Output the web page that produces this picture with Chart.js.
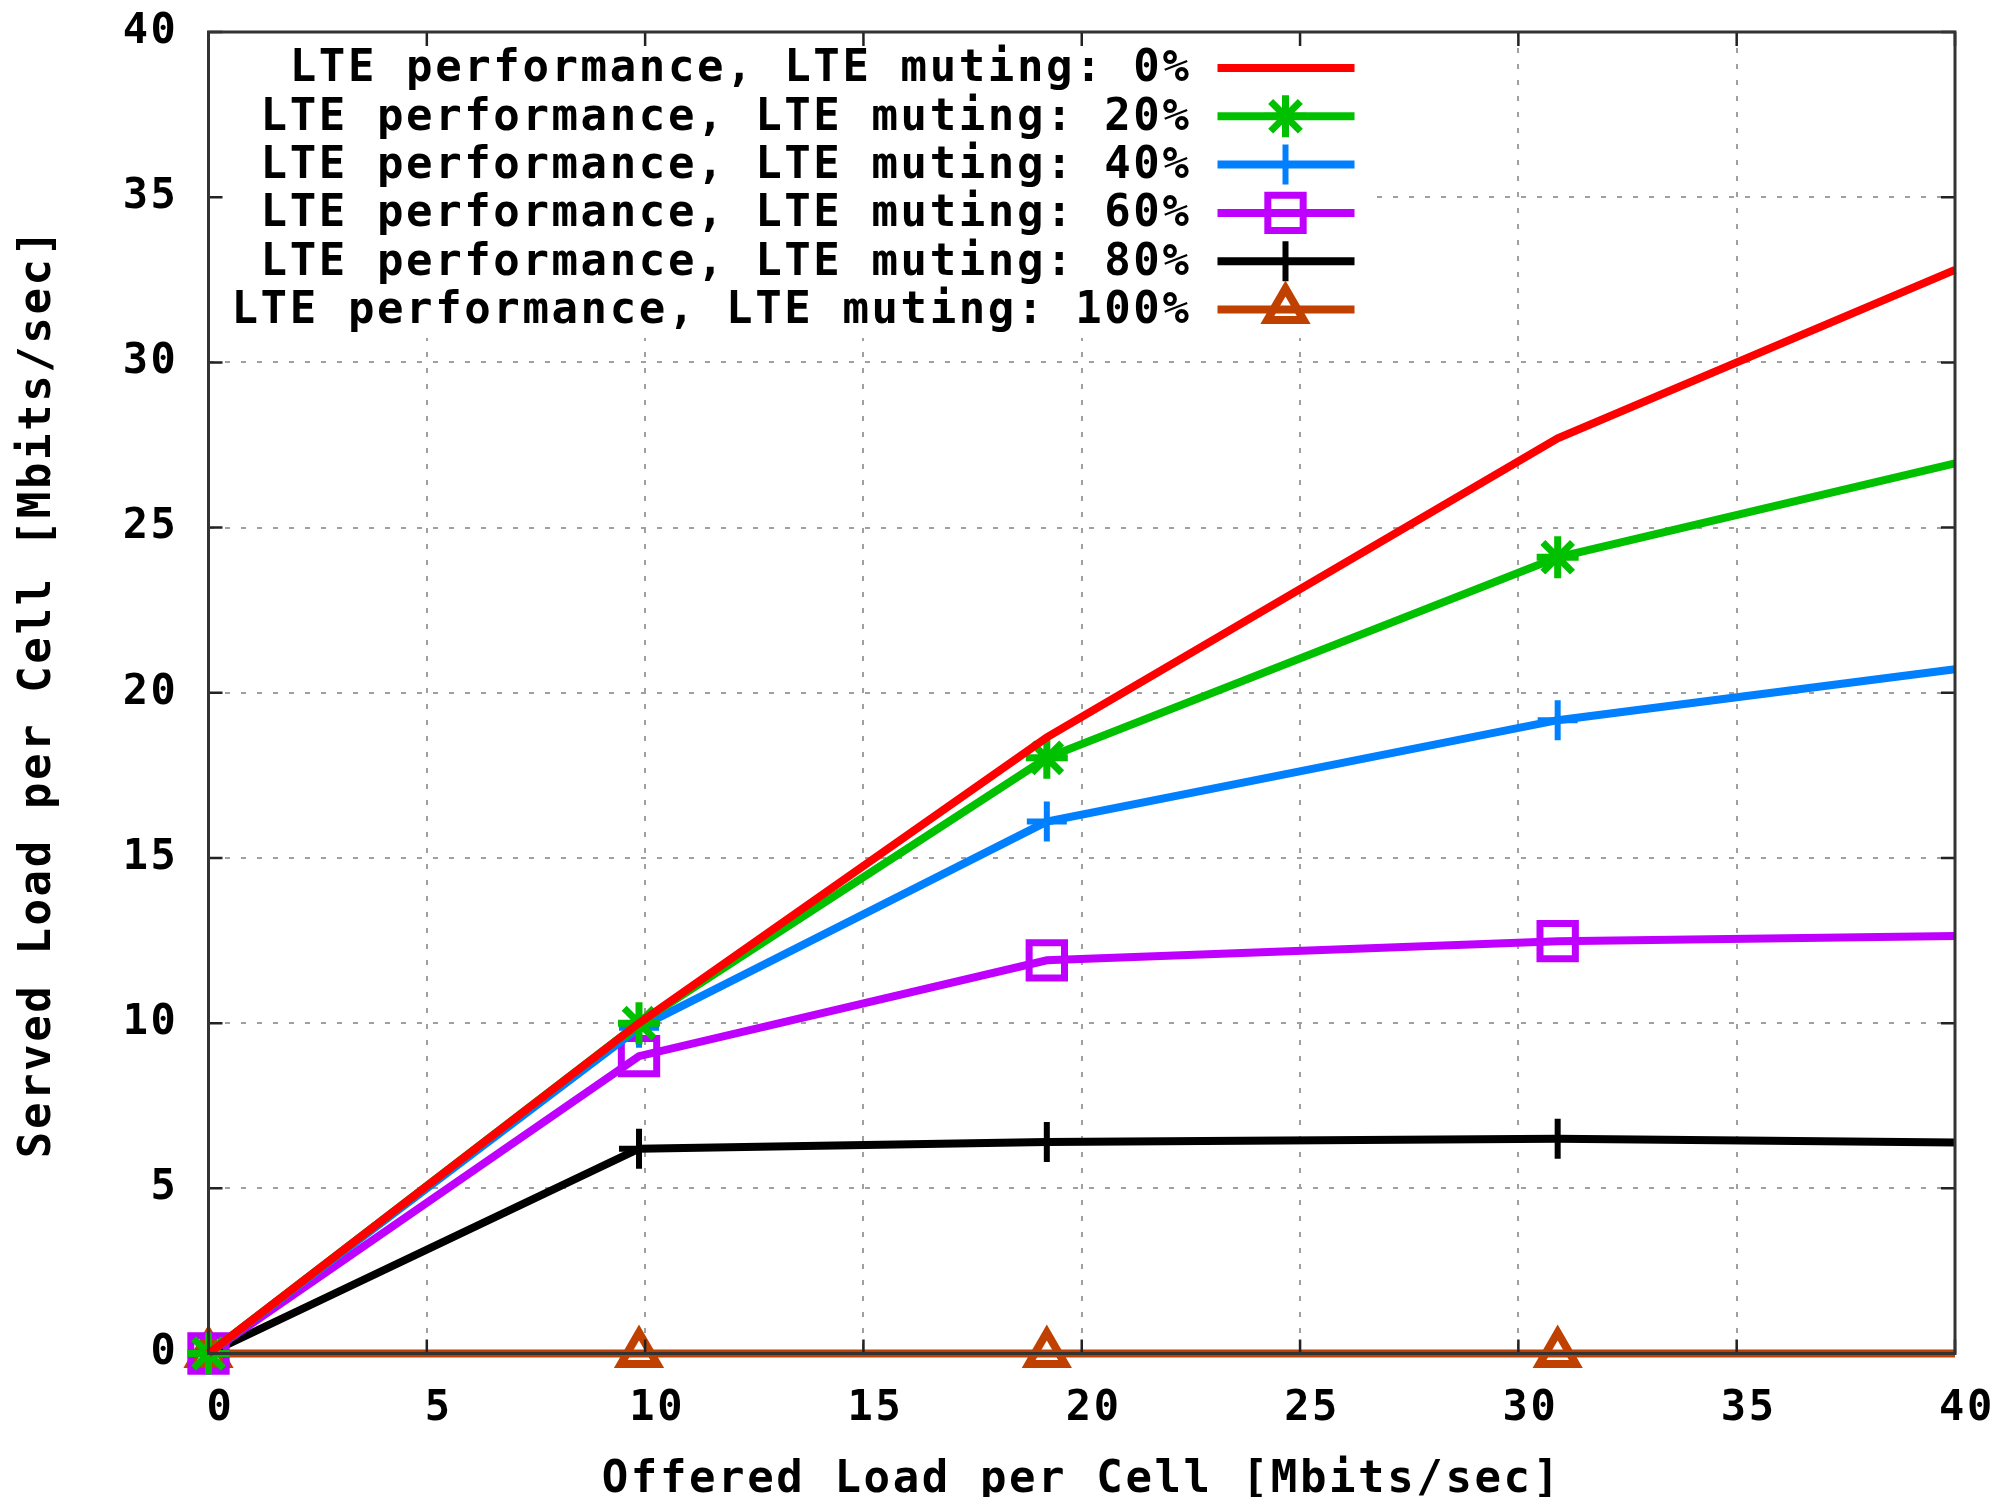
<!DOCTYPE html>
<html>
<head>
<meta charset="utf-8">
<script src="https://cdn.jsdelivr.net/npm/chart.js@4/dist/chart.umd.min.js"></script>
<style>
html,body{margin:0;padding:0;background:#fff;}
#wrap{width:2006px;height:1497px;position:relative;}
</style>
</head>
<body>
<div id="wrap"><canvas id="c" width="2006" height="1497"></canvas></div>
<script>
// ---- data ----
const offeredLoad = [0, 9.86, 19.2, 30.9, 40];
const seriesLabels = [
  'LTE performance, LTE muting: 0%',
  'LTE performance, LTE muting: 20%',
  'LTE performance, LTE muting: 40%',
  'LTE performance, LTE muting: 60%',
  'LTE performance, LTE muting: 80%',
  'LTE performance, LTE muting: 100%'
];
const muting0   = [0, 10.0, 18.65, 27.7, 32.8];
const muting20  = [0, 10.0, 18.03, 24.1, 26.94];
const muting40  = [0, 9.86, 16.1, 19.17, 20.71];
const muting60  = [0, 9.0, 11.9, 12.48, 12.64];
const muting80  = [0, 6.2, 6.4, 6.5, 6.39];
const muting100 = [0, 0, 0, 0, 0];
const xTickValues = [0, 5, 10, 15, 20, 25, 30, 35, 40];
const yTickValues = [0, 5, 10, 15, 20, 25, 30, 35, 40];
const xTitle = 'Offered Load per Cell [Mbits/sec]';
const yTitle = 'Served Load per Cell [Mbits/sec]';

const FONT = "'DejaVu Sans Mono', monospace";
const SPACING = '2.6px';
const seriesValues = [muting0, muting20, muting40, muting60, muting80, muting100];
const seriesColors = ['#ff0000', '#00c000', '#0080ff', '#c000ff', '#000000', '#c04000'];
const seriesStyles = [false, 'star', 'cross', 'rect', 'cross', 'triangle'];
const seriesRadius = [0, 21, 20, 25, 20, 21];
const seriesPointWidth = [0, 7, 6, 7, 6, 8];

const datasets = seriesValues.map((vals, k) => ({
  label: seriesLabels[k],
  data: offeredLoad.map((x, i) => ({x: x, y: vals[i]})),
  borderColor: seriesColors[k],
  backgroundColor: seriesColors[k],
  borderWidth: 8,
  tension: 0,
  clip: false,
  pointStyle: seriesStyles[k] || 'circle',
  pointRadius: offeredLoad.map((x, i) => (i === offeredLoad.length - 1 ? 0 : seriesRadius[k])),
  pointHoverRadius: 0,
  pointBorderColor: seriesColors[k],
  pointBackgroundColor: 'rgba(0,0,0,0)',
  pointBorderWidth: seriesPointWidth[k]
}));

const gnuplotFrame = {
  id: 'gnuplotFrame',
  beforeDraw(chart) {
    chart.ctx.letterSpacing = SPACING;
  },
  beforeDatasetsDraw(chart) {
    const {ctx, chartArea: a} = chart;
    ctx.save();
    ctx.fillStyle = '#ffffff';
    ctx.fillRect(a.left + 2, a.top + 2, 1157, 304);
    ctx.restore();
  },
  afterDatasetsDraw(chart) {
    const {ctx, chartArea: a, scales} = chart;
    ctx.save();
    ctx.strokeStyle = '#222';
    ctx.lineWidth = 2.5;
    const tl = 14;
    ctx.beginPath();
    xTickValues.forEach(v => {
      const px = scales.x.getPixelForValue(v);
      ctx.moveTo(px, a.bottom); ctx.lineTo(px, a.bottom - tl);
      ctx.moveTo(px, a.top); ctx.lineTo(px, a.top + tl);
    });
    yTickValues.forEach(v => {
      const py = scales.y.getPixelForValue(v);
      ctx.moveTo(a.left, py); ctx.lineTo(a.left + tl, py);
      ctx.moveTo(a.right, py); ctx.lineTo(a.right - tl, py);
    });
    ctx.stroke();
    ctx.lineWidth = 3;
    ctx.strokeStyle = '#333';
    ctx.strokeRect(a.left, a.top, a.right - a.left, a.bottom - a.top);

    // legend (key)
    ctx.letterSpacing = SPACING;
    ctx.font = 'bold 44px ' + FONT;
    ctx.textAlign = 'right';
    ctx.textBaseline = 'middle';
    chart.data.datasets.forEach((ds, k) => {
      const y = a.top + 36 + k * 48.3;
      ctx.fillStyle = '#000';
      ctx.fillText(ds.label, a.left + 983, y + 2);
      ctx.strokeStyle = ds.borderColor;
      ctx.lineWidth = 8;
      ctx.beginPath();
      ctx.moveTo(a.left + 1009, y);
      ctx.lineTo(a.left + 1146, y);
      ctx.stroke();
      if (seriesStyles[k]) {
        ctx.fillStyle = 'rgba(0,0,0,0)';
        ctx.strokeStyle = ds.borderColor;
        ctx.lineWidth = seriesPointWidth[k];
        Chart.helpers.drawPoint(ctx, {pointStyle: seriesStyles[k], radius: seriesRadius[k], borderWidth: seriesPointWidth[k], rotation: 0}, a.left + 1077, y);
      }
    });
    ctx.restore();
  }
};

new Chart(document.getElementById('c'), {
  type: 'line',
  data: {datasets: datasets},
  plugins: [gnuplotFrame],
  options: {
    responsive: false,
    animation: false,
    devicePixelRatio: 1,
    events: [],
    layout: {padding: {left: 0, right: 51, top: 28, bottom: 0}},
    plugins: {legend: {display: false}, tooltip: {enabled: false}},
    scales: {
      x: {
        type: 'linear', min: 0, max: 40,
        afterBuildTicks: s => { s.ticks = xTickValues.map(v => ({value: v})); },
        afterFit: s => { s.height = 143.5; s.paddingLeft = 0; s.paddingRight = 0; },
        ticks: {font: {family: FONT, size: 42, weight: 'bold'}, color: '#000', padding: 30, labelOffset: 12, maxRotation: 0, autoSkip: false},
        grid: {drawTicks: false, color: '#a0a0a0', lineWidth: 2},
        border: {display: false, dash: [5, 11]},
        title: {display: true, text: xTitle, color: '#000', font: {family: FONT, size: 44, weight: 'bold', lineHeight: 0.75}, padding: {top: 0, bottom: 0}}
      },
      y: {
        type: 'linear', min: 0, max: 40,
        afterBuildTicks: s => { s.ticks = yTickValues.map(v => ({value: v})); },
        afterFit: s => { s.width = 208.5; s.paddingTop = 0; s.paddingBottom = 0; },
        ticks: {font: {family: FONT, size: 42, weight: 'bold'}, color: '#000', padding: 30, autoSkip: false},
        grid: {drawTicks: false, color: '#a0a0a0', lineWidth: 2},
        border: {display: false, dash: [5, 11]},
        title: {display: true, text: yTitle, color: '#000', font: {family: FONT, size: 44, weight: 'bold', lineHeight: 1.2}, padding: {top: 12, bottom: 0}}
      }
    }
  }
});
</script>
</body>
</html>
